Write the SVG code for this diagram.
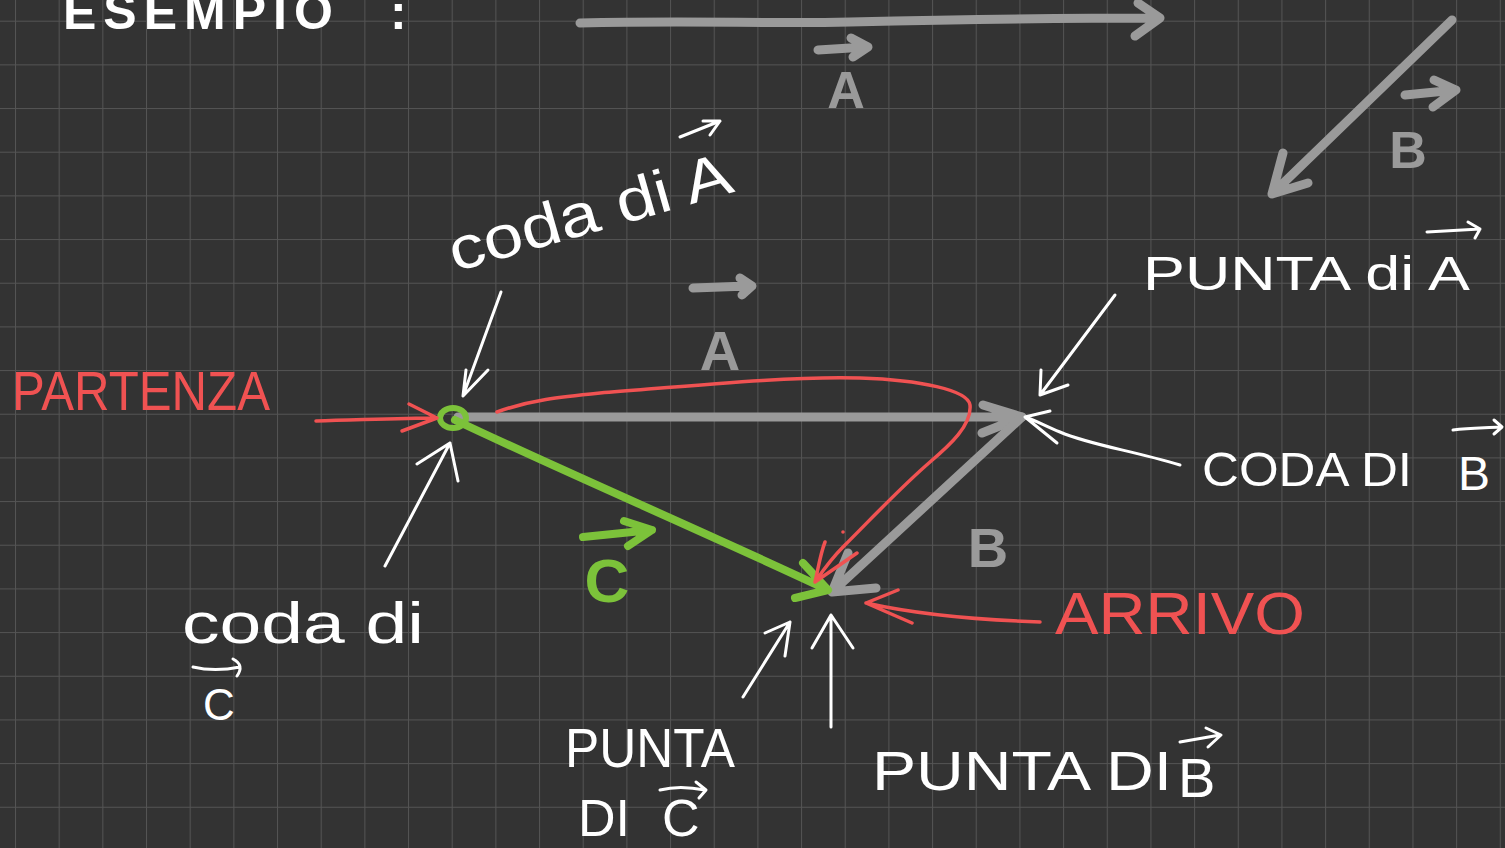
<svg xmlns="http://www.w3.org/2000/svg" width="1505" height="848" viewBox="0 0 1505 848">
<defs>
<pattern id="grid" x="15" y="20.7" width="43.67" height="43.67" patternUnits="userSpaceOnUse">
<path d="M0,0 V43.67 M0,0 H43.67" stroke="#545454" stroke-width="2" fill="none"/>
</pattern>
<style>
.w{fill:#ffffff;font-family:"Liberation Sans",Arial,sans-serif}
.r{fill:#f05252;font-family:"Liberation Sans",Arial,sans-serif}
.g{fill:#9a9a9a;font-family:"Liberation Sans",Arial,sans-serif;font-weight:bold}
.gr{fill:#7cc23a;font-family:"Liberation Sans",Arial,sans-serif;font-weight:bold}
.sw{fill:none;stroke:#ffffff;stroke-width:3;stroke-linecap:round;stroke-linejoin:round}
.sr{fill:none;stroke:#f05252;stroke-width:3.5;stroke-linecap:round;stroke-linejoin:round}
.sg{fill:none;stroke:#9a9a9a;stroke-width:9;stroke-linecap:round;stroke-linejoin:round}
.sgr{fill:none;stroke:#7cc23a;stroke-width:8;stroke-linecap:round;stroke-linejoin:round}
</style>
</defs>
<rect width="1505" height="848" fill="#333333"/>
<rect width="1505" height="848" fill="url(#grid)"/>

<g id="title">
<text class="w" x="63" y="29" font-size="50" font-weight="bold" letter-spacing="7">ESEMPIO<tspan x="390">:</tspan></text>
</g>

<g id="connectors">
<path class="sg" d="M580,23 C700,20 760,24 850,22 S1050,18 1160,18 M1138,3 L1160,18 L1135,36"/>
<path class="sg" d="M1452,20 L1272,194 M1283,153 L1272,194 L1308,183"/>
<path class="sg" d="M458,417 L1022,417 M983,405 L1022,417 L982,433"/>
<path class="sg" d="M1022,417 L832,592 M848,553 L832,592 L876,588"/>
<path class="sgr" d="M455,420 C560,470 700,530 828,590 M803,563 L828,590 L795,598"/>
<ellipse cx="453" cy="418" rx="13" ry="10" fill="none" stroke="#7cc23a" stroke-width="6"/>
<path class="sr" d="M497,412 C530,400 560,397 600,393 C700,385 790,376 860,378 C920,380 968,390 970,405 C972,425 950,445 930,462 C900,488 875,515 843,547 C830,560 822,572 815,582 M825,542 C820,555 818,570 815,582 L857,553"/>
<circle cx="843" cy="532" r="1.8" fill="#f05252"/>
<path class="sr" d="M316,421 C360,420 400,418 437,418 M409,404 L437,418 L402,431"/>
<path class="sr" d="M1040,622 C980,620 920,615 866,603 M898,590 L866,603 L912,623"/>
<path class="sw" d="M501,292 L463,396 M466,370 L463,396 L488,370"/>
<path class="sw" d="M385,566 L450,443 M417,464 L450,443 L458,481"/>
<path class="sw" d="M1115,295 L1040,395 M1041,370 L1040,395 L1068,385"/>
<path class="sw" d="M1180,465 C1130,450 1090,445 1060,432 C1045,426 1035,420 1025,417 M1050,411 L1025,417 L1057,443"/>
<path class="sw" d="M743,697 L790,622 M765,633 L790,622 L785,656"/>
<path class="sw" d="M831,727 L831,615 M812,648 L831,615 L853,648"/>
</g>

<g id="label-A-top">
<path class="sg" d="M818,50 L866,47 M851,38 L868,47 L853,57"/>
<text class="g" x="846" y="108" font-size="52" text-anchor="middle">A</text>
</g>

<g id="label-B-top">
<path class="sg" d="M1405,95 L1456,90 M1434,80 L1456,90 L1433,107"/>
<text class="g" x="1408" y="168" font-size="52" text-anchor="middle">B</text>
</g>

<g id="label-A">
<path class="sg" d="M693,288 L748,286 M740,278 L752,286 L742,295" stroke-width="11"/>
<text class="g" x="720" y="370" font-size="56" text-anchor="middle">A</text>
</g>

<g id="label-B">
<text class="g" x="988" y="567" font-size="56" text-anchor="middle">B</text>
</g>

<g id="label-C">
<path class="sgr" d="M583,537 L652,530 M624,521 L652,530 L628,546"/>
<text class="gr" x="607" y="602" font-size="62" text-anchor="middle">C</text>
</g>

<g id="partenza">
<text class="r" x="12" y="410" font-size="55" textLength="258" lengthAdjust="spacingAndGlyphs">PARTENZA</text>
</g>

<g id="arrivo">
<text class="r" x="1055" y="634" font-size="60" textLength="250" lengthAdjust="spacingAndGlyphs">ARRIVO</text>
</g>

<g id="coda-di-A">
<text class="w" transform="translate(455,272) rotate(-16)" font-size="60" textLength="292" lengthAdjust="spacingAndGlyphs">coda di A</text>
<path class="sw" d="M680,137 L720,121 M703,121 L720,121 L710,135"/>
</g>

<g id="coda-di-C">
<text class="w" x="182" y="643" font-size="58" textLength="242" lengthAdjust="spacingAndGlyphs">coda di</text>
<path class="sw" d="M193,667 C210,671 225,670 240,667 M233,659 C241,663 242,669 237,676"/>
<text class="w" x="203" y="720" font-size="44">C</text>
</g>

<g id="punta-di-A">
<text class="w" x="1143" y="290" font-size="48" textLength="327" lengthAdjust="spacingAndGlyphs">PUNTA di A</text>
<path class="sw" d="M1427,232 L1480,229 M1468,222 L1480,229 L1475,238"/>
</g>

<g id="coda-di-B">
<text class="w" x="1202" y="486" font-size="48" textLength="210" lengthAdjust="spacingAndGlyphs">CODA DI</text>
<text class="w" x="1458" y="490" font-size="48">B</text>
<path class="sw" d="M1453,430 C1470,428 1485,428 1500,427 M1494,420 L1502,427 L1494,434"/>
</g>

<g id="punta-di-C">
<text class="w" x="565" y="767" font-size="56" textLength="170" lengthAdjust="spacingAndGlyphs">PUNTA</text>
<text class="w" x="578" y="836" font-size="52">DI<tspan x="662">C</tspan></text>
<path class="sw" d="M660,790 C675,786 690,787 705,790 M696,782 L706,790 L699,798"/>
</g>

<g id="punta-di-B">
<text class="w" x="872" y="790" font-size="56" textLength="300" lengthAdjust="spacingAndGlyphs">PUNTA DI</text>
<text class="w" x="1178" y="797" font-size="56">B</text>
<path class="sw" d="M1180,742 L1220,735 M1206,728 L1221,735 L1208,747"/>
</g>
</svg>
